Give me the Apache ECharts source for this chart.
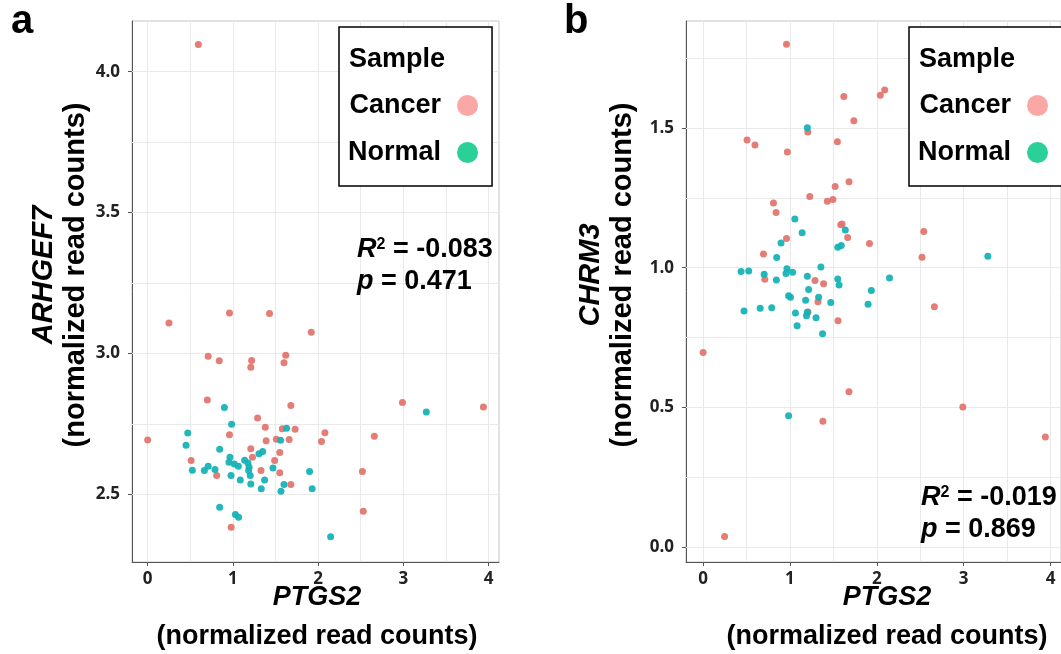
<!DOCTYPE html>
<html>
<head>
<meta charset="utf-8">
<title>PTGS2 correlation</title>
<script src="https://cdn.jsdelivr.net/npm/echarts@6/dist/echarts.min.js"></script>
<style>
html,body{margin:0;padding:0;background:#fff;}
#chart{width:1061px;height:654px;}
</style>
</head>
<body>
<div id="chart"></div>
<script>
// panel a : PTGS2 vs ARHGEF7
const cancerA = [
  [0.25,3.108],[0.96,3.144],[1.43,3.142],[1.92,3.075],[0.71,2.99],[0.84,2.974],[1.22,2.975],
  [1.21,2.951],[1.62,2.994],[1.60,2.967],[0.70,2.835],[1.68,2.815],[2.99,2.826],[3.94,2.81],
  [1.29,2.771],[1.38,2.738],[1.58,2.733],[1.73,2.731],[0.96,2.712],[2.08,2.719],[2.04,2.688],
  [2.66,2.706],[0.0,2.693],[1.39,2.69],[1.51,2.696],[1.66,2.695],[1.21,2.662],[1.55,2.649],
  [1.23,2.632],[1.49,2.62],[0.51,2.62],[1.33,2.585],[1.55,2.577],[0.81,2.567],[1.68,2.535],
  [2.52,2.581],[2.53,2.44],[0.98,2.383],[0.594,4.097]
]
const normalA = [
  [0.90,2.808],[0.985,2.749],[1.63,2.735],[0.47,2.718],[0.45,2.674],[1.56,2.692],[0.845,2.66],
  [3.27,2.792],[1.35,2.652],[1.306,2.644],[0.966,2.632],[0.954,2.614],[1.017,2.608],[1.064,2.60],
  [1.138,2.621],[1.177,2.611],[1.19,2.596],[1.185,2.585],[0.71,2.60],[0.665,2.585],[0.524,2.586],
  [0.79,2.588],[1.47,2.594],[1.90,2.581],[0.978,2.567],[1.204,2.567],[1.087,2.551],[1.372,2.551],
  [1.21,2.537],[1.333,2.52],[1.60,2.535],[1.564,2.511],[1.93,2.52],[0.845,2.454],[1.03,2.429],
  [1.067,2.419],[2.147,2.35]
]
// panel b : PTGS2 vs CHRM3
const cancerB = [
  [0.96,1.80],[1.62,1.613],[2.04,1.617],[2.09,1.636],[1.735,1.526],[1.205,1.486],[0.506,1.457],
  [0.597,1.439],[1.546,1.451],[0.97,1.414],[1.68,1.308],[1.52,1.291],[1.228,1.255],[1.43,1.238],
  [1.494,1.244],[0.81,1.232],[0.84,1.198],[1.585,1.154],[1.60,1.157],[1.664,1.108],[0.96,1.105],
  [2.54,1.13],[1.915,1.087],[0.695,1.049],[2.52,1.038],[0.71,0.959],[1.288,0.954],[1.387,0.943],
  [1.322,0.878],[1.207,0.842],[1.553,0.81],[2.662,0.86],[0.0,0.697],[1.679,0.556],[2.99,0.502],
  [1.379,0.451],[3.94,0.394],[0.247,0.038]
]
const normalB = [
  [1.2,1.501],[1.056,1.174],[1.14,1.125],[1.637,1.135],[0.897,1.089],[1.55,1.073],[1.59,1.08],
  [0.847,1.037],[1.356,1.003],[0.437,0.987],[0.525,0.988],[0.703,0.977],[0.965,0.996],[0.954,0.979],
  [1.03,0.984],[0.844,0.956],[1.2,0.97],[1.55,0.96],[1.565,0.938],[2.146,0.963],[1.215,0.922],
  [1.937,0.919],[0.984,0.90],[1.33,0.894],[1.18,0.884],[1.006,0.894],[1.47,0.876],[1.899,0.869],
  [0.471,0.845],[0.657,0.855],[0.79,0.857],[1.063,0.838],[1.2,0.841],[1.19,0.828],[1.3,0.821],
  [1.082,0.792],[1.375,0.764],[0.984,0.47],[3.278,1.041]
]

// ticks and grid lines
const xTicks = [0,1,2,3,4]
const yTicksA = [2.5,3.0,3.5,4.0]
const yTicksB = [0,0.5,1.0,1.5]
const xGrid = [0,0.5,1,1.5,2,2.5,3,3.5,4]
const yGridA = [2.5,2.75,3,3.25,3.5,3.75,4]
const yGridB = [0,0.25,0.5,0.75,1,1.25,1.5,1.75]

// stats text
const statsA = ['-0.083','0.471']
const statsB = ['-0.019','0.869']

const FONT = '"Liberation Sans", Arial, sans-serif'
const CANCER = '#E3766F'
const NORMAL = '#17B2B6'

function gridLines(xs, ys){
  let d = []
  xs.forEach(v=>d.push({xAxis:v}))
  ys.forEach(v=>d.push({yAxis:v}))
  return d
}

function xAxisOf(idx, min, max){
  return {
    type:'value', gridIndex:idx, min:min, max:max,
    axisLine:{show:true, onZero:false, lineStyle:{color:'#555', width:1}},
    axisTick:{show:true, length:4, customValues:xTicks, lineStyle:{color:'#555'}},
    axisLabel:{customValues:xTicks, margin:9, color:'#222', fontSize:17, fontWeight:'bold', fontFamily:'"Open Sans", sans-serif'},
    splitLine:{show:false}
  }
}
function yAxisOf(idx, min, max, ticks){
  return {
    type:'value', gridIndex:idx, min:min, max:max,
    axisLine:{show:true, onZero:false, lineStyle:{color:'#555', width:1}},
    axisTick:{show:true, length:4, customValues:ticks, lineStyle:{color:'#555'}},
    axisLabel:{customValues:ticks, margin:12, color:'#222', fontSize:17, fontWeight:'bold', fontFamily:'"Open Sans", sans-serif',
      formatter:(v)=>v.toFixed(1)},
    splitLine:{show:false}
  }
}
function legendOf(left){
  return {
    orient:'vertical', left:left, top:27, align:'right', z:10,
    padding:[65,14,20,9], itemGap:20,
    itemWidth:43, itemHeight:21, icon:'circle',
    backgroundColor:'#fff', borderColor:'#000', borderWidth:1.5, selectedMode:false,
    textStyle:{fontSize:27, fontWeight:'bold', fontFamily:FONT, color:'#000', lineHeight:26},
    data:[
      {name:'Cancer', itemStyle:{color:'#F9A3A1'}},
      {name:'Normal', itemStyle:{color:'#1DCF94'}}
    ]
  }
}
function scatter(name, idx, data, color){
  return {
    name:name, type:'scatter', xAxisIndex:idx, yAxisIndex:idx,
    data:data, symbolSize:7, z:3,
    itemStyle:{color:color, opacity:0.95}
  }
}
// grid lines drawn as mark lines, kept under the points
function gridSeries(idx, ys){
  return {
    name:'grid'+idx, type:'scatter', xAxisIndex:idx, yAxisIndex:idx, data:[], z:1,
    markLine:{silent:true, z:1, symbol:['none','none'], label:{show:false},
      lineStyle:{color:'#e9e9e9', width:1, type:'solid'}, data:gridLines(xGrid,ys)}
  }
}
function statText(x, y, r2, p){
  const rich = {
    i:{font:'italic bold 27px '+FONT, fill:'#000'},
    s:{font:'bold 16px '+FONT, fill:'#000', verticalAlign:'top'},
    b:{font:'bold 27px '+FONT, fill:'#000'}
  }
  return [
    {type:'text', z:100, x:x, y:y, style:{text:'{i|R}{s|2}{b| = '+r2+'}', rich:rich, verticalAlign:'middle'}},
    {type:'text', z:100, x:x, y:y+32, style:{text:'{i|p}{b| = '+p+'}', rich:rich, verticalAlign:'middle'}}
  ]
}
function label(x, y, text, italic, size, rot){
  return {type:'text', z:100, x:x, y:y, rotation:rot||0,
    style:{text:text, font:(italic?'italic ':'')+'bold '+size+'px '+FONT, fill:'#000', align:'center', verticalAlign:'middle'}}
}

let chart = echarts.init(document.getElementById('chart'))
let options = {
  animation:false,
  grid:[
    {left:132, top:21, width:367, height:541, show:true, borderColor:'#c4c4c4', borderWidth:1},
    {left:686, top:21, width:379, height:541, show:true, borderColor:'#c4c4c4', borderWidth:1}
  ],
  xAxis:[ xAxisOf(0,-0.184,4.123), xAxisOf(1,-0.197,4.12) ],
  yAxis:[ yAxisOf(0,2.26,4.18,yTicksA), yAxisOf(1,-0.053,1.883,yTicksB) ],
  legend:[ legendOf(339), legendOf(909) ],
  series:[
    gridSeries(0,yGridA),
    gridSeries(1,yGridB),
    scatter('Cancer',0,cancerA,CANCER),
    scatter('Normal',0,normalA,NORMAL),
    scatter('Cancer',1,cancerB,CANCER),
    scatter('Normal',1,normalB,NORMAL)
  ],
  graphic:[
    {type:'text', z:100, left:11, top:2, style:{text:'a', font:'bold 40px '+FONT, fill:'#000'}},
    {type:'text', z:100, left:564, top:2, style:{text:'b', font:'bold 40px '+FONT, fill:'#000'}},
    {type:'text', z:100, x:349, y:60, style:{text:'Sample', font:'bold 27px '+FONT, fill:'#000', verticalAlign:'middle'}},
    {type:'text', z:100, x:919, y:60, style:{text:'Sample', font:'bold 27px '+FONT, fill:'#000', verticalAlign:'middle'}},
    ...statText(357,250,statsA[0],statsA[1]),
    ...statText(921,498,statsB[0],statsB[1]),
    label(317,598,'PTGS2',true,27),
    label(317,637,'(normalized read counts)',false,27),
    label(887,598,'PTGS2',true,27),
    label(887,637,'(normalized read counts)',false,27),
    label(44,275,'ARHGEF7',true,29,Math.PI/2),
    label(76,275,'(normalized read counts)',false,29,Math.PI/2),
    label(591,275,'CHRM3',true,29,Math.PI/2),
    label(623,275,'(normalized read counts)',false,29,Math.PI/2)
  ]
}
chart.setOption(options)
</script>
</body>
</html>
